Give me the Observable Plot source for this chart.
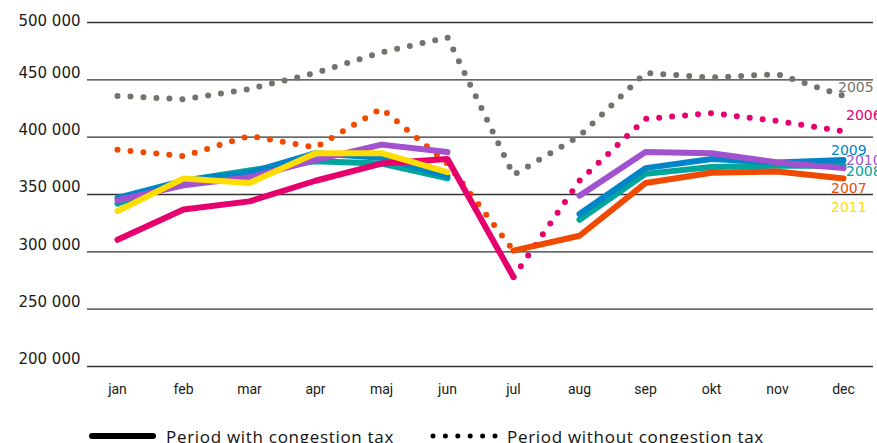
<!DOCTYPE html>
<html>
<head>
<meta charset="utf-8">
<script src="https://cdn.jsdelivr.net/npm/d3@7"></script>
<script src="https://cdn.jsdelivr.net/npm/@observablehq/plot@0.6"></script>
<style>
  html, body { margin: 0; padding: 0; background: #fff; overflow: hidden; }
  #wrap { position: relative; width: 877px; height: 443px; }
  #chart svg { overflow: hidden; }
  #legend { position: absolute; left: 0; top: 424px; width: 877px; height: 24px; font-family: "Open Sans", sans-serif; font-size: 17px; letter-spacing: 0.7px; color: #111; }
  #legend .item { position: absolute; top: 0; display: flex; align-items: center; height: 24px; }
  #legend svg { display: block; }
</style>
</head>
<body>
<div id="wrap">
  <div id="chart"></div>
  <div id="legend">
    <div class="item" style="left:89px">
      <svg width="68" height="24"><line x1="3" y1="12" x2="64" y2="12" stroke="#000" stroke-width="6" stroke-linecap="round"/></svg>
      <span style="margin-left:9px">Period with congestion tax</span>
    </div>
    <div class="item" style="left:430px">
      <svg width="68" height="24"><line x1="3" y1="12" x2="65" y2="12" stroke="#000" stroke-width="5" stroke-linecap="round" stroke-dasharray="0,12.4"/></svg>
      <span style="margin-left:9px">Period without congestion tax</span>
    </div>
  </div>
</div>
<script>
const months = ["jan","feb","mar","apr","maj","jun","jul","aug","sep","okt","nov","dec"];
const years = ["2005","2006","2007","2008","2009","2010","2011"];
const yTicks = [200000, 250000, 300000, 350000, 400000, 450000, 500000];

// monthly values (null = no value)
const v2005 = [436000, 433000, 442000, 456000, 474000, 487000, 367000, 401000, 456000, 452000, 455000, 436000];
const v2006 = [310500, 337000, 344000, 362000, 377000, 381000, 278000, 362000, 416000, 421000, 414000, 405000];
const v2007 = [389000, 383500, 401000, 391000, 425000, 377000, 301000, 314000, 360000, 369000, 370000, 364000];
const v2008 = [342000, 362000, 371000, 379000, 377000, 364000, null, 328000, 368000, 374000, 375000, 375000];
const v2009 = [347000, 362000, 369000, 386000, 382000, 366000, null, 333000, 373000, 381000, 378000, 380000];
const v2010 = [345000, 358000, 365000, 380000, 393500, 387000, null, 349000, 387000, 386000, 378000, 373000];
const v2011 = [335500, 364000, 360000, 386000, 386000, 369500, null, null, null, null, null, null];

// periods: with / without congestion tax (from month, to month)
const periodYear = ["2005","2006","2006","2007","2007","2008","2008","2009","2009","2010","2010","2011"];
const periodType = ["without","with","without","without","with","with","with","with","with","with","with","with"];
const periodFrom = ["jan","jan","jul","jan","jul","jan","aug","jan","aug","jan","aug","jan"];
const periodTo   = ["dec","jul","dec","jul","dec","jun","dec","jun","dec","jun","dec","jun"];

// end labels
const labelYears  = ["2005","2006","2009","2010","2008","2007","2011"];
const labelValues = [443300, 418900, 388400, 379700, 370000, 355200, 338700];
const labelGroupA = ["2005"];
const labelGroupB = ["2009","2007","2011"];

const valuesByYear = {"2005": v2005, "2006": v2006, "2007": v2007, "2008": v2008, "2009": v2009, "2010": v2010, "2011": v2011};

const rows = [];
periodYear.forEach((yr, i) => {
  const a = months.indexOf(periodFrom[i]), b = months.indexOf(periodTo[i]);
  for (let m = a; m <= b; m++) {
    const v = valuesByYear[yr][m];
    if (v == null) continue;
    rows.push({seg: i, year: yr, type: periodType[i], month: months[m], value: v});
  }
});
const dottedRows = rows.filter(d => d.type === "without");
const solidOrder = ["2008","2009","2010","2007","2006","2011"];
const solidRows = rows.filter(d => d.type === "with").sort((p, q) => solidOrder.indexOf(p.year) - solidOrder.indexOf(q.year));
const labels = labelYears.map((y, i) => ({year: y, value: labelValues[i]}));

const fmt = d => d3.format(",")(d).replace(/,/g, " ");
const topTick = yTicks[yTicks.length - 1];

const chart = Plot.plot({
  width: 877,
  height: 410,
  marginLeft: 87,
  marginRight: 4,
  marginTop: 22,
  marginBottom: 44,
  style: {fontFamily: "'DejaVu Sans', sans-serif", color: "#1a1a1a", background: "#fff"},
  x: {type: "point", domain: months, padding: 0.445, label: null},
  y: {domain: [200000, 500000], label: null},
  color: {domain: years, range: ["#74726c", "#e6006e", "#f04a00", "#00a59b", "#0085c9", "#a252cf", "#ffdd00"]},
  marks: [
    Plot.gridY(yTicks, {stroke: "#333", strokeOpacity: 1, strokeWidth: 1.3}),
    Plot.axisY({ticks: yTicks.filter(t => t !== topTick), tickSize: 0, tickPadding: 7, dy: -7, tickFormat: fmt, fontSize: 15, letterSpacing: 1.1, label: null}),
    Plot.axisY({ticks: [topTick], tickSize: 0, tickPadding: 7, dy: -1, tickFormat: fmt, fontSize: 15, letterSpacing: 1.1, label: null}),
    Plot.axisX({tickSize: 0, tickPadding: 18, fontSize: 14, fontFamily: "Roboto, sans-serif", label: null}),
    Plot.line(dottedRows, {x: "month", y: "value", z: "seg", stroke: "year", strokeWidth: 6, strokeLinecap: "round", strokeLinejoin: "round", strokeDasharray: "0,13"}),
    Plot.line(solidRows, {x: "month", y: "value", z: "seg", stroke: "year", strokeWidth: 6, strokeLinecap: "round", strokeLinejoin: "round"}),
    Plot.text(labels.filter(d => labelGroupA.includes(d.year)), {x: () => "dec", y: "value", text: "year", fill: "year", textAnchor: "start", dx: -5.5, fontSize: 14, letterSpacing: 1.5}),
    Plot.text(labels.filter(d => labelGroupB.includes(d.year)), {x: () => "dec", y: "value", text: "year", fill: "year", textAnchor: "start", dx: -12.5, fontSize: 14, letterSpacing: 1.5}),
    Plot.text(labels.filter(d => !labelGroupA.includes(d.year) && !labelGroupB.includes(d.year)), {x: () => "dec", y: "value", text: "year", fill: "year", textAnchor: "start", dx: 2.5, fontSize: 14, letterSpacing: 1.5})
  ]
});
document.getElementById("chart").appendChild(chart);
</script>
</body>
</html>
